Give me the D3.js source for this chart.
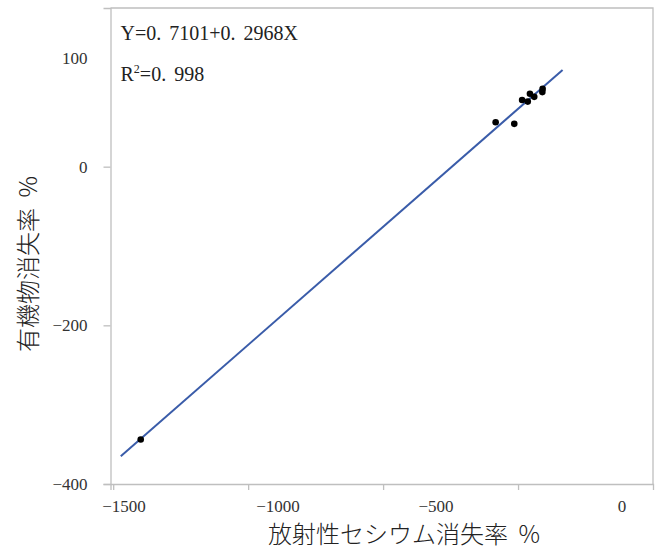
<!DOCTYPE html>
<html>
<head>
<meta charset="utf-8">
<script src="https://cdn.jsdelivr.net/npm/d3@7"></script>
<style>
  html, body { margin: 0; padding: 0; background: #fff; }
  svg { display: block; }
</style>
</head>
<body>
<svg id="chart" width="658" height="549"></svg>
<script>
// ---- data (in the chart's axis units) ----
const pointX = [-1398, -83, -14, 15, 36, 44, 60, 90, 91];
const pointY = [-344, 56, 54, 84, 82, 92, 88, 94, 98];
const fitLineX = [-1472, 165];
const fitLineY = [-365, 122];
const xTickMarks = [-1500, -1000, -500, 0];
const xTickLabels = ["\u22121500", "\u22121000", "\u2212500", "0"];
const xTickLabelAt = [-1462, -891, -306, 383];
const yTickMarks = [-400, -200, 0];
const yTickLabels = ["\u2212400", "\u2212200", "0", "100"];
const yTickLabelAt = [-400, -200, 0, 137];
const equationText = "Y=0.7101+0.2968X";
const r2Text = "0.998";
const xTitle = "放射性セシウム消失率 %";
const yTitle = "有機物消失率 %";

// ---- layout ----
const plot = { left: 110.5, right: 653, top: 8, bottom: 484 };
const svg = d3.select("#chart");
const x = d3.scaleLinear().domain([-1510, 500]).range([plot.left, plot.right]);
const y = d3.scaleLinear().domain([-400, 200]).range([plot.bottom, plot.top]);
const axisColor = "#bfbfbf";
const serif = "'Liberation Serif', 'DejaVu Serif', serif";
const cjk = "'Noto Sans CJK JP', sans-serif";

// frame (top & right)
svg.append("path")
  .attr("d", `M${plot.left},${plot.top}H${plot.right}V${plot.bottom}`)
  .attr("fill", "none").attr("stroke", axisColor).attr("stroke-width", 1.3);

// x tick marks
const gxT = svg.append("g").attr("transform", `translate(0,${plot.bottom})`)
  .call(d3.axisBottom(x).tickValues(xTickMarks).tickSize(6).tickFormat(""));
gxT.selectAll("path,line").attr("stroke", axisColor).attr("stroke-width", 1.3);
// x labels
const gxL = svg.append("g").attr("transform", `translate(0,${plot.bottom})`)
  .call(d3.axisBottom(x).tickValues(xTickLabelAt).tickSize(0).tickPadding(16)
    .tickFormat((d, i) => xTickLabels[i]));
gxL.select(".domain").remove();
gxL.selectAll("text").attr("font-family", serif).attr("font-size", 17).attr("fill", "#333");

// y tick marks
const gyT = svg.append("g").attr("transform", `translate(${plot.left},0)`)
  .call(d3.axisLeft(y).tickValues(yTickMarks).tickSize(7).tickFormat(""));
gyT.selectAll("path,line").attr("stroke", axisColor).attr("stroke-width", 1.3);
// y labels
const gyL = svg.append("g").attr("transform", `translate(${plot.left},0)`)
  .call(d3.axisLeft(y).tickValues(yTickLabelAt).tickSize(0).tickPadding(23)
    .tickFormat((d, i) => yTickLabels[i]));
gyL.select(".domain").remove();
gyL.selectAll("text").attr("font-family", serif).attr("font-size", 17).attr("fill", "#333");

// fit line
svg.append("line")
  .attr("x1", x(fitLineX[0])).attr("y1", y(fitLineY[0]))
  .attr("x2", x(fitLineX[1])).attr("y2", y(fitLineY[1]))
  .attr("stroke", "#3a5ca9").attr("stroke-width", 2);

// points
svg.append("g").selectAll("circle").data(pointX.map((d, i) => [d, pointY[i]]))
  .join("circle")
  .attr("cx", d => x(d[0])).attr("cy", d => y(d[1])).attr("r", 3.3)
  .attr("fill", "#000");

// helper: write text with wide (full-width style) decimal points
function wideDots(sel, str) {
  const parts = str.split(".");
  parts.forEach((p, i) => {
    const t = sel.append("tspan").text(p + (i < parts.length - 1 ? "." : ""));
    if (i > 0) t.attr("dx", 8);
  });
}

// equation text
const eq = svg.append("text").attr("x", 120.5).attr("y", 39.5)
  .attr("font-family", serif).attr("font-size", 20).attr("fill", "#222");
wideDots(eq, equationText);
const r2 = svg.append("text").attr("x", 120.5).attr("y", 81)
  .attr("font-family", serif).attr("font-size", 20).attr("fill", "#222");
r2.append("tspan").text("R");
r2.append("tspan").attr("font-size", 12).attr("dy", -8).text("2");
const r2rest = r2.append("tspan").attr("dy", 8);
r2rest.text("=");
wideDots(r2, r2Text);

// axis titles
svg.append("text").attr("x", 404).attr("y", 543)
  .attr("text-anchor", "middle")
  .attr("font-family", cjk).attr("font-size", 24)
  .attr("font-weight", 300).attr("fill", "#222")
  .attr("xml:space", "preserve")
  .text(xTitle.replace(" ", "  "));
svg.append("text")
  .attr("transform", "translate(37,264) rotate(-90)")
  .attr("text-anchor", "middle")
  .attr("font-family", cjk).attr("font-size", 24)
  .attr("font-weight", 300).attr("fill", "#222")
  .attr("xml:space", "preserve")
  .text(yTitle.replace(" ", "  "));
</script>
</body>
</html>
